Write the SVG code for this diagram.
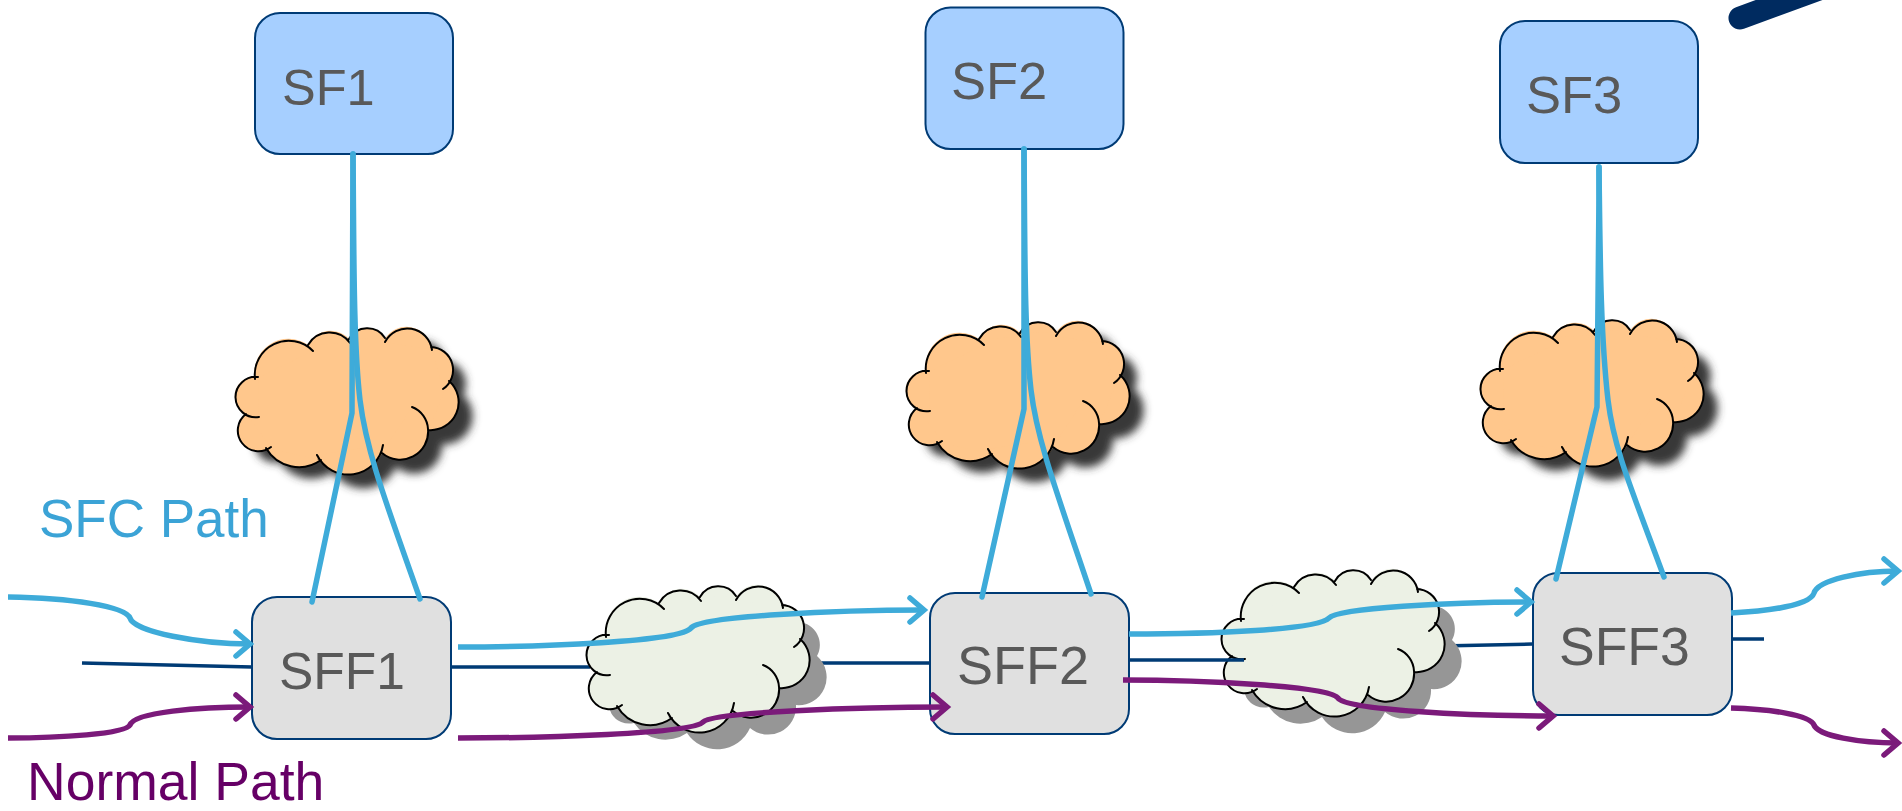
<svg xmlns="http://www.w3.org/2000/svg" width="1902" height="811" viewBox="0 0 1902 811">
<style>
text{font-family:"Liberation Sans",Arial,sans-serif}
.sf{fill:#A6CFFF;stroke:#003B75;stroke-width:2}
.sff{fill:#E0E0E0;stroke:#003B75;stroke-width:2}
.lbl{fill:#595959}
.lobes{fill:none;stroke:#000;stroke-width:2;stroke-linecap:round}
.orange{fill:#FFC78C}
.green{fill:#ECF1E5}
.shblur{fill:#383838;filter:url(#blur)}
.shgrey{fill:#969696}
.sfc{fill:none;stroke:#3EABD9;stroke-width:5.5}
.sfa{marker-end:url(#aB)}
.norm{fill:none;stroke:#7B1A7A;stroke-width:5.5}
.nma{marker-end:url(#aP)}
.navy{fill:none;stroke:#003B75;stroke-width:3.5}
.link{fill:none;stroke:#3EABD9;stroke-width:5.5;stroke-linecap:round}
</style>
<defs>
<filter id="blur" x="-20%" y="-20%" width="140%" height="140%"><feGaussianBlur stdDeviation="4"/></filter>
<marker id="aB" markerUnits="userSpaceOnUse" markerWidth="30" markerHeight="34" viewBox="-20 -17 30 34" refX="0" refY="0" orient="auto"><path d="M-14 -12L0 0L-14 12" fill="none" stroke="#3EABD9" stroke-width="5.5" stroke-linecap="round"/></marker>
<marker id="aP" markerUnits="userSpaceOnUse" markerWidth="30" markerHeight="34" viewBox="-20 -17 30 34" refX="0" refY="0" orient="auto"><path d="M-14 -12L0 0L-14 12" fill="none" stroke="#7B1A7A" stroke-width="5.5" stroke-linecap="round"/></marker>
<path id="cb" d="M20 50A34 34 0 0 1 73 16A25 25 0 0 1 114 10A21 21 0 0 1 150 10A25 25 0 0 1 196 18A23 23 0 0 1 214 52A28 28 0 0 1 193 101A28 28 0 0 1 147 124A36 36 0 0 1 84 129A38 38 0 0 1 31 119A20.600 20.600 0 0 1 11 85A19.400 19.400 0 0 1 20 48Z"/>
<path id="cl" d="M20 50A34 34 0 0 1 78 22M73 16A25 25 0 0 1 115 14M114 10A21 21 0 0 1 150 9M150 13A25 25 0 0 1 197 21M196 18A23 23 0 0 1 208 60M214 52A28 28 0 0 1 193 101M177 78A25 25 0 0 1 193 100A28 28 0 0 1 147 124M148 116A35 35 0 0 1 82 126M86 131A38 38 0 0 1 31 119M36 118A20.600 20.600 0 0 1 11 85M24 88A20.200 20.200 0 1 1 23 48"/>
</defs>
<g id="navy-back">
<path class="navy" d="M82 663L252 667M451 667H590M805 663H930M1440 646L1532 644M1731 639H1764"/>
</g>
<g id="cloud-o1" transform="translate(235 329)"><use href="#cb" class="shblur" x="14" y="14"/><use href="#cb" class="orange"/><use href="#cl" class="orange"/><use href="#cl" class="lobes"/></g>
<g id="cloud-o2" transform="translate(906 323)"><use href="#cb" class="shblur" x="14" y="14"/><use href="#cb" class="orange"/><use href="#cl" class="orange"/><use href="#cl" class="lobes"/></g>
<g id="cloud-o3" transform="translate(1480 321)"><use href="#cb" class="shblur" x="14" y="14"/><use href="#cb" class="orange"/><use href="#cl" class="orange"/><use href="#cl" class="lobes"/></g>
<g id="cloud-g1" transform="translate(586 587)"><use href="#cb" class="shgrey" x="17" y="17"/><use href="#cb" class="green"/><use href="#cl" class="green"/><use href="#cl" class="lobes"/></g>
<g id="cloud-g2" transform="translate(1221 571)"><use href="#cb" class="shgrey" x="17" y="17"/><use href="#cb" class="green"/><use href="#cl" class="green"/><use href="#cl" class="lobes"/></g>
<g id="SF1"><rect class="sf" x="255" y="13" width="198" height="141" rx="25"/><text class="lbl" font-size="50.500" x="282" y="105">SF1</text></g>
<g id="SF2"><rect class="sf" x="925.500" y="7.500" width="198" height="141.500" rx="25"/><text class="lbl" font-size="52.500" x="951" y="99">SF2</text></g>
<g id="SF3"><rect class="sf" x="1500" y="21" width="198" height="142" rx="25"/><text class="lbl" font-size="52.500" x="1526" y="113">SF3</text></g>
<g id="SFF1"><rect class="sff" x="252" y="597" width="199" height="142" rx="25"/><text class="lbl" font-size="51.500" x="279" y="689">SFF1</text></g>
<g id="SFF2"><rect class="sff" x="930" y="593" width="199" height="141" rx="25"/><text class="lbl" font-size="54" x="957" y="684">SFF2</text></g>
<g id="SFF3"><rect class="sff" x="1533" y="573" width="199" height="142" rx="25"/><text class="lbl" font-size="53.500" x="1559" y="665">SFF3</text></g>
<g id="connectors">
<path class="navy" d="M1129 660H1244"/>
<path class="link" d="M353 154C352 250 352 340 352 413L312 602"/>
<path class="link" d="M353 154C354 240 353 340 360 400C366 450 385 500 420 599"/>
<path class="link" d="M1024 149C1024 250 1024 340 1024 409L982 597"/>
<path class="link" d="M1024 149C1025 240 1024 330 1031 390C1037 440 1056 490 1091 594"/>
<path class="link" d="M1599 167C1599 250 1598 335 1597 407L1556 579"/>
<path class="link" d="M1599 167C1600 240 1600 330 1608 400C1614 450 1632 490 1664 577"/>
<path class="sfc sfa" d="M8 597C70 598 125 606 130 618C134 632 200 644 250 644"/>
<path class="norm nma" d="M8 738C60 738 125 734 130 725C134 712 200 707 250 707"/>
<path class="sfc sfa" d="M458 647C540 647 680 642 691 628C700 616 840 610 924 610"/>
<path class="norm nma" d="M458 738C540 738 692 734 703 722C712 712 860 707 947 707"/>
<path class="sfc sfa" d="M1129 634C1210 634 1318 630 1329 618C1338 608 1450 602 1531 602"/>
<path class="norm nma" d="M1123 680C1200 680 1330 686 1338 698C1346 710 1470 716 1553 716"/>
<path class="sfc sfa" d="M1731 613C1770 611 1810 605 1814 593C1818 580 1860 571 1898 571"/>
<path class="norm nma" d="M1731 708C1770 709 1810 715 1814 725C1818 736 1860 743 1898 743"/>
</g>
<path id="blob" d="M1740 18L1830 -15" fill="none" stroke="#002B60" stroke-width="23" stroke-linecap="round"/>
<text id="lbl-sfc" x="39" y="537" font-size="53" fill="#3BA3D6">SFC Path</text>
<text id="lbl-normal" x="27" y="799.500" font-size="53.500" fill="#660066">Normal Path</text>
</svg>
